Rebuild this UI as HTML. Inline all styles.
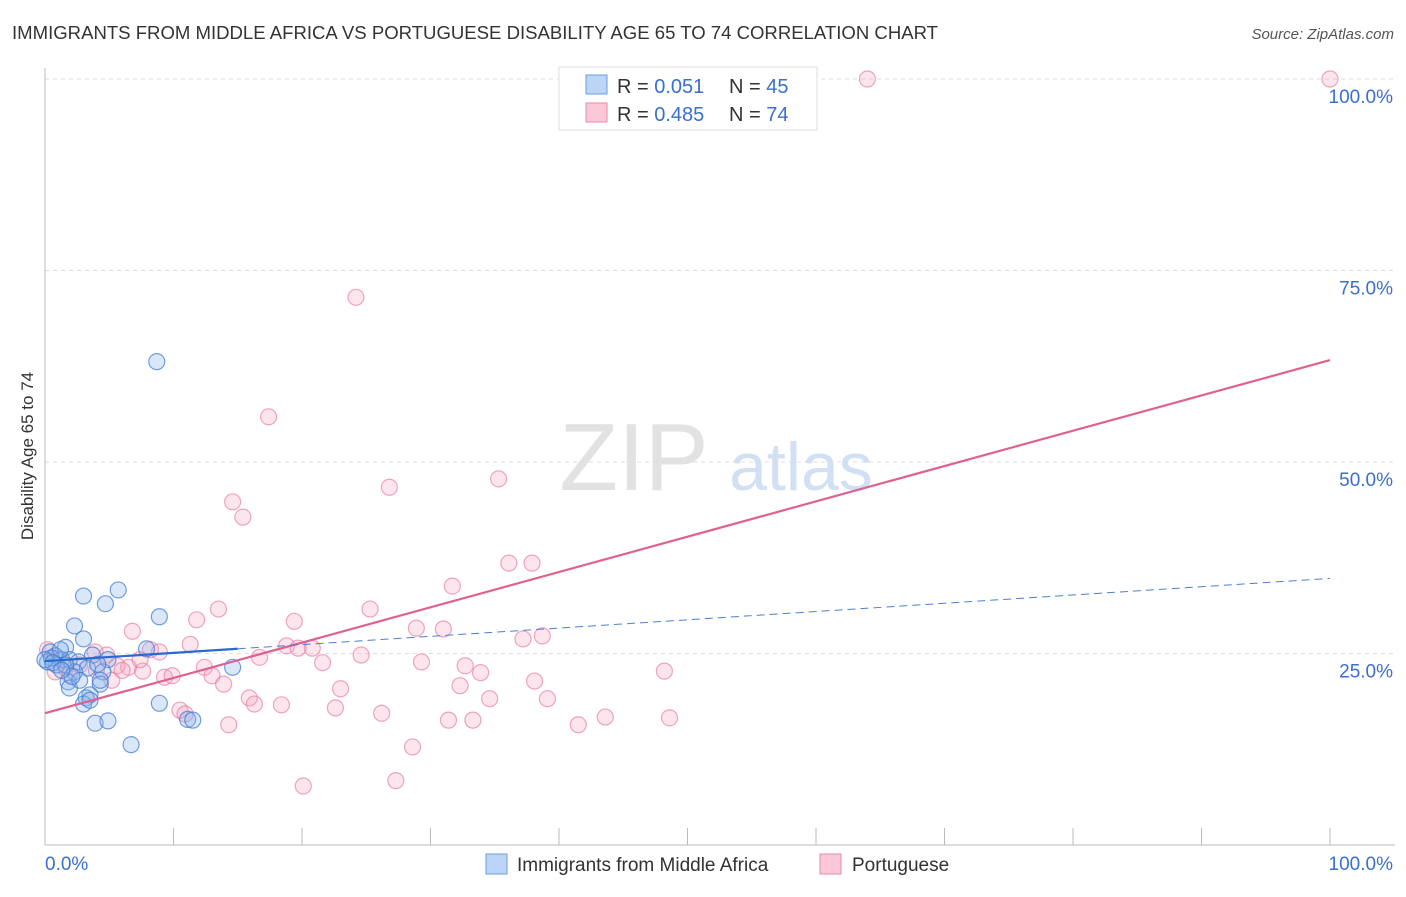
<!DOCTYPE html>
<html><head><meta charset="utf-8"><style>
body{margin:0;background:#fff;font-family:"Liberation Sans",sans-serif;}
svg text{font-family:"Liberation Sans",sans-serif;}
</style></head><body>
<svg id="chart" width="1406" height="892" xmlns="http://www.w3.org/2000/svg">
<text x="12" y="39" font-size="18" fill="#333" textLength="926" lengthAdjust="spacingAndGlyphs">IMMIGRANTS FROM MIDDLE AFRICA VS PORTUGUESE DISABILITY AGE 65 TO 74 CORRELATION CHART</text>
<text x="1394" y="39" font-size="15" fill="#555" text-anchor="end" font-style="italic">Source: ZipAtlas.com</text>
<text transform="translate(33,456) rotate(-90)" font-size="17" fill="#333" text-anchor="middle">Disability Age 65 to 74</text>
<g>
<text x="634" y="490" font-size="96" fill="#e2e2e2" font-family="Liberation Serif,serif" text-anchor="middle">ZIP</text>
<text x="801" y="490" font-size="68" fill="#d2e0f4" text-anchor="middle">atlas</text>
</g>
<g id="grid"></g><g id="axes"></g><g id="marks"></g><g id="lines"></g>
<g>
<rect x="559" y="67" width="258" height="63" fill="#fff" stroke="#ddd"/>
<rect x="586" y="75" width="21" height="19" fill="#bcd4f5" stroke="#6a9ee0"/>
<rect x="586" y="103" width="21" height="19" fill="#fcc8d8" stroke="#e58aa8"/>
<text x="617" y="93" font-size="20" fill="#333">R = <tspan fill="#3a6fd0">0.051</tspan></text>
<text x="729" y="93" font-size="20" fill="#333">N = <tspan fill="#3a6fd0">45</tspan></text>
<text x="617" y="121" font-size="20" fill="#333">R = <tspan fill="#3a6fd0">0.485</tspan></text>
<text x="729" y="121" font-size="20" fill="#333">N = <tspan fill="#3a6fd0">74</tspan></text>
</g>
<g>
<rect x="486" y="854" width="21" height="20" fill="#bcd4f5" stroke="#6a9ee0"/>
<text x="517" y="871" font-size="19" fill="#333">Immigrants from Middle Africa</text>
<rect x="820" y="854" width="21" height="20" fill="#fcc8d8" stroke="#e58aa8"/>
<text x="852" y="871" font-size="19" fill="#333">Portuguese</text>
</g>
</svg>
<script>
const blueX=[8.7,5.7,3.0,4.7,8.9,2.3,3.0,7.9,1.6,0.4,0.8,1.3,1.9,0.2,2.6,3.7,4.9,0.9,3.3,14.6,4.5,2.3,1.8,4.3,1.9,3.5,3.2,3.0,8.9,3.9,4.9,11.1,11.5,6.7,0.5,0,1.2,4.1,1.6,2.7,2.1,4.3,0.6,1.3,3.5];
const blueY=[63.1,33.3,32.5,31.5,29.8,28.6,26.9,25.6,25.8,25.2,24.7,24.2,24.2,23.9,23.9,24.8,24.2,23.5,23.1,23.2,22.6,22.6,21.3,21.0,20.5,19.6,19.2,18.4,18.5,15.9,16.2,16.4,16.3,13.1,24.4,24.2,25.5,23.6,23.5,21.5,22.0,21.5,23.8,22.8,18.9];
const pinkX=[64.0,100,24.2,17.4,14.6,15.4,26.8,35.3,36.1,37.9,31.7,13.5,25.3,11.8,19.4,6.8,28.9,31.0,38.7,37.2,8.2,11.3,18.8,20.8,19.7,4.8,8.9,16.7,24.6,6.5,12.4,21.6,29.3,32.7,33.9,48.2,7.6,9.3,9.9,13.0,13.9,23.0,32.3,38.1,15.9,16.3,18.4,22.6,34.6,39.1,26.2,10.5,10.9,43.6,48.6,31.4,33.3,14.3,41.5,28.6,27.3,20.1,0.2,0.8,1.6,2.7,4.0,5.6,5.2,1.9,1.0,3.9,7.4,6.0];
const pinkY=[100,100,71.5,55.9,44.8,42.8,46.7,47.8,36.8,36.8,33.8,30.8,30.8,29.4,29.2,27.9,28.3,28.2,27.3,26.9,25.5,26.2,26.0,25.7,25.7,24.8,25.2,24.5,24.8,23.2,23.2,23.8,23.9,23.4,22.5,22.7,22.7,21.9,22.1,22.1,21.0,20.4,20.8,21.4,19.2,18.4,18.3,17.9,19.1,19.1,17.2,17.6,17.1,16.7,16.6,16.3,16.3,15.7,15.7,12.8,8.4,7.7,25.5,22.6,23.1,23.5,22.8,23.4,21.5,22.2,24.4,25.2,24.2,22.8];
const yTicks=[25,50,75,100];
const yTickLabels=["25.0%","50.0%","75.0%","100.0%"];
const xTicks=[0,10,20,30,40,50,60,70,80,90,100];
const blueTrend=[24.0,0.108];
const pinkTrend=[17.2,0.461];

const NS="http://www.w3.org/2000/svg";
const sx=v=>45+v*12.85;
const sy=v=>845-v*7.66;
function mk(parent,tag,attrs){const e=document.createElementNS(NS,tag);for(const k in attrs)e.setAttribute(k,attrs[k]);document.getElementById(parent).appendChild(e);return e;}

yTicks.forEach((t,i)=>{
  const l=mk('grid','line',{x1:45,x2:1395,y1:sy(t),y2:sy(t),stroke:'#ddd','stroke-dasharray':'4,4'});
  
  
  const tx=mk('grid','text',{x:1393,y:sy(t)+24,'font-size':19,fill:'#3a6fd0','text-anchor':'end'});
  tx.textContent=yTickLabels[i];
  
  
});
let a=mk('axes','line',{x1:45,x2:45,y1:68,y2:845,stroke:'#bbb'});


a=mk('axes','line',{x1:45,x2:1395,y1:845,y2:845,stroke:'#bbb'});


xTicks.forEach(t=>{
  const l=mk('axes','line',{x1:sx(t),x2:sx(t),y1:828,y2:845,stroke:'#bbb'});
  
  
});
let xl=mk('axes','text',{x:45,y:870,'font-size':19,fill:'#3a6fd0'});xl.textContent='0.0%';


xl=mk('axes','text',{x:1393,y:870,'font-size':19,fill:'#3a6fd0','text-anchor':'end'});xl.textContent='100.0%';



pinkX.forEach((x,i)=>{
  const c=mk('marks','circle',{cx:sx(x),cy:sy(pinkY[i]),r:8,fill:'rgba(246,160,190,0.28)',stroke:'rgba(230,120,160,0.65)','stroke-width':1.2});
  
  
});
blueX.forEach((x,i)=>{
  const c=mk('marks','circle',{cx:sx(x),cy:sy(blueY[i]),r:8,fill:'rgba(140,180,235,0.32)',stroke:'rgba(60,120,210,0.7)','stroke-width':1.2});
  
  
});
let tl=mk('lines','line',{x1:sx(0),y1:sy(pinkTrend[0]),x2:sx(100),y2:sy(pinkTrend[0]+pinkTrend[1]*100),stroke:'#e06090','stroke-width':2.2});


tl=mk('lines','line',{x1:sx(15),y1:sy(blueTrend[0]+blueTrend[1]*15),x2:sx(100),y2:sy(blueTrend[0]+blueTrend[1]*100),stroke:'#4a80d0','stroke-width':1,'stroke-dasharray':'8,5'});


tl=mk('lines','line',{x1:sx(0),y1:sy(blueTrend[0]),x2:sx(15),y2:sy(blueTrend[0]+blueTrend[1]*15),stroke:'#2a6ad0','stroke-width':2.2});


</script>
</body></html>
